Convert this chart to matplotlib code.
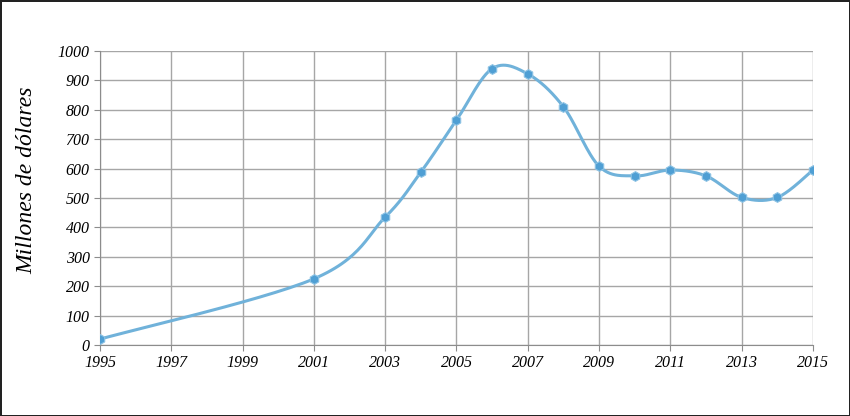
import numpy as np
import matplotlib.pyplot as plt

# datos
years = [1995, 2001, 2003, 2004, 2005, 2006, 2007, 2008, 2009, 2010, 2011, 2012, 2013, 2014, 2015]
values = [20, 225, 435, 588, 765, 940, 922, 810, 608, 575, 595, 575, 502, 502, 595]
xticks = list(range(1995, 2016, 2))
yticks = list(range(0, 1001, 100))


def smooth(xs, ys, n=30):
    # curva suavizada tipo Excel (Bezier con puntos de control de Catmull-Rom)
    p = np.column_stack([xs, ys]).astype(float)
    pts = [p[0]]
    for i in range(len(p) - 1):
        p0 = p[i - 1] if i > 0 else p[i]
        p3 = p[i + 2] if i + 2 < len(p) else p[i + 1]
        c1 = p[i] + (p[i + 1] - p0) / 6
        c2 = p[i + 1] - (p3 - p[i]) / 6
        t = np.linspace(0, 1, n)[1:, None]
        seg = (1 - t)**3 * p[i] + 3 * (1 - t)**2 * t * c1 + 3 * (1 - t) * t**2 * c2 + t**3 * p[i + 1]
        pts.extend(seg)
    pts = np.array(pts)
    return pts[:, 0], pts[:, 1]


plt.rcParams['font.family'] = ['Liberation Serif', 'DejaVu Serif']

fig = plt.figure(figsize=(8.5, 4.16), dpi=100)
fig.patch.set_edgecolor('#222222')
fig.patch.set_linewidth(2)
ax = fig.add_axes([0.1176, 0.1707, 0.8389, 0.7067])

sx, sy = smooth(years, values)
ax.plot(sx, sy, color='#70b2da', lw=2.2, zorder=3)
ax.plot(years, values, ls='none', marker='h', ms=7, color='#4f9fd4',
        markeredgecolor='#8cc2e4', markeredgewidth=0.8, zorder=4)

ax.set_xlim(1995, 2015)
ax.set_ylim(0, 1000)
ax.set_xticks(xticks)
ax.set_yticks(yticks)
ax.grid(True, color='#a6a6a6', lw=1)
ax.set_axisbelow(True)
for s in ['top', 'right']:
    ax.spines[s].set_visible(False)
for s in ['left', 'bottom']:
    ax.spines[s].set_color('#8c8c8c')
ax.tick_params(axis='both', colors='#8c8c8c', length=4, labelcolor='black', labelsize=11.5)
for lab in ax.get_xticklabels() + ax.get_yticklabels():
    lab.set_fontstyle('italic')
ax.set_ylabel('Millones de dólares', fontsize=17, style='italic', va='center')
ax.yaxis.set_label_coords(-0.102, 0.56)

fig.savefig('out.png', dpi=100, edgecolor=fig.get_edgecolor())
